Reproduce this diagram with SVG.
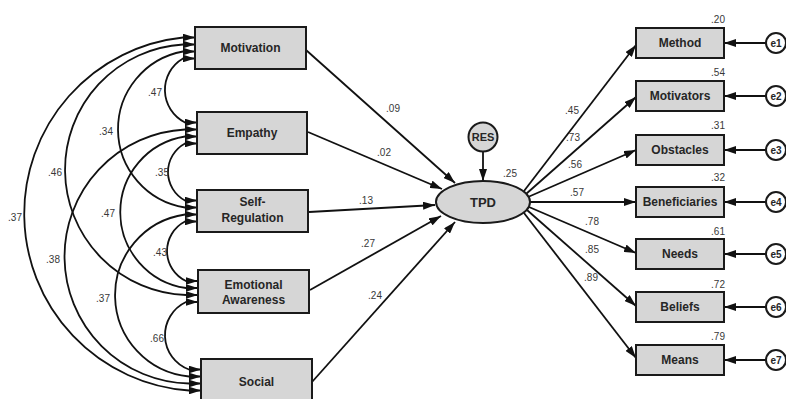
<svg xmlns="http://www.w3.org/2000/svg" width="786" height="399" viewBox="0 0 786 399">
<defs>
<marker id="ah" markerUnits="userSpaceOnUse" markerWidth="12" markerHeight="8" refX="12" refY="4" orient="auto-start-reverse" viewBox="0 0 12 8">
<path d="M0,0 L12,4 L0,8 z" fill="#111"/>
</marker>
<marker id="ch" markerUnits="userSpaceOnUse" markerWidth="12" markerHeight="7.6" refX="12" refY="3.8" orient="0" viewBox="0 0 12 7.6">
<path d="M0,0 L12,3.8 L0,7.6 z" fill="#111"/>
</marker>
<style>
.box{fill:#d6d6d6;stroke:#1a1a1a;stroke-width:2}
.lat{fill:#d6d6d6;stroke:#1a1a1a;stroke-width:2}
.lbl{font-family:"Liberation Sans",Arial,sans-serif;font-size:12px;font-weight:bold;fill:#262626;text-anchor:middle}
.num{font-family:"Liberation Sans",Arial,sans-serif;font-size:10px;fill:#383838;text-anchor:middle}
.conn{fill:none;stroke:#111;stroke-width:1.8}
.arr{marker-end:url(#ah)}
.cov{marker-start:url(#ch);marker-end:url(#ch)}
</style>
</defs>
<rect width="786" height="399" fill="#fff"/>
<g id="connectors">
<!-- covariances (circular arcs, horizontal arrowheads) -->
<path class="conn cov" d="M195,37.5 L183,37.5 A177.2,177.2 0 0 0 189,390.5 L201,390.5"/>
<path class="conn cov" d="M195,44.5 L183,44.5 A125.4,125.4 0 0 0 186,295 L198,295"/>
<path class="conn cov" d="M195,51.5 L183,51.5 A79.1,79.1 0 0 0 185,207.5 L197,207.5"/>
<path class="conn cov" d="M195,58.5 L183,58.5 A36.4,36.4 0 0 0 185,122.5 L197,122.5"/>
<path class="conn cov" d="M197,129.5 L185,129.5 A127.1,127.1 0 0 0 189,383.5 L201,383.5"/>
<path class="conn cov" d="M197,136.5 L185,136.5 A76.6,76.6 0 0 0 186,288 L198,288"/>
<path class="conn cov" d="M197,143.5 L185,143.5 A32.4,32.4 0 0 0 185,200.5 L197,200.5"/>
<path class="conn cov" d="M197,214.5 L185,214.5 A81.6,81.6 0 0 0 189,376.5 L201,376.5"/>
<path class="conn cov" d="M197,221.5 L185,221.5 A33.2,33.2 0 0 0 186,281 L198,281"/>
<path class="conn cov" d="M198,302 L186,302 A36.6,36.6 0 0 0 189,369.5 L201,369.5"/>
<!-- predictors to TPD -->
<path class="conn arr" d="M306,50 L455,183"/>
<path class="conn arr" d="M308,132 L442,189"/>
<path class="conn arr" d="M309,212 L435,205"/>
<path class="conn arr" d="M310,290 L441,216"/>
<path class="conn arr" d="M312,382 L455,222"/>
<path class="conn arr" d="M483,152 L483,181"/>
<!-- TPD to indicators -->
<path class="conn arr" d="M524,191 L636,45"/>
<path class="conn arr" d="M526,194 L636,97"/>
<path class="conn arr" d="M528,197 L636,150"/>
<path class="conn arr" d="M530,202 L636,202"/>
<path class="conn arr" d="M529,207 L636,253"/>
<path class="conn arr" d="M527,210 L636,306"/>
<path class="conn arr" d="M524,213 L636,358"/>
<!-- errors -->
<path class="conn arr" d="M766,43 L724,43"/>
<path class="conn arr" d="M766,96 L724,96"/>
<path class="conn arr" d="M766,150 L724,150"/>
<path class="conn arr" d="M766,202 L724,202"/>
<path class="conn arr" d="M766,254 L724,254"/>
<path class="conn arr" d="M766,307 L724,307"/>
<path class="conn arr" d="M766,360 L724,360"/>
</g>
<g id="labels">
<text class="num" x="155" y="95.5">.47</text>
<text class="num" x="106" y="134.5">.34</text>
<text class="num" x="55" y="175.5">.46</text>
<text class="num" x="162" y="175.5">.35</text>
<text class="num" x="15" y="220.5">.37</text>
<text class="num" x="108" y="216.5">.47</text>
<text class="num" x="160" y="255.5">.43</text>
<text class="num" x="53" y="262.5">.38</text>
<text class="num" x="103" y="301.5">.37</text>
<text class="num" x="157" y="341.5">.66</text>
<text class="num" x="393" y="111.5">.09</text>
<text class="num" x="384" y="155.5">.02</text>
<text class="num" x="366" y="203.5">.13</text>
<text class="num" x="368" y="246.5">.27</text>
<text class="num" x="375" y="298.5">.24</text>
<text class="num" x="510" y="176.5">.25</text>
<text class="num" x="572" y="113.5">.45</text>
<text class="num" x="573" y="140.5">.73</text>
<text class="num" x="575" y="167.5">.56</text>
<text class="num" x="577" y="195.5">.57</text>
<text class="num" x="592" y="224.5">.78</text>
<text class="num" x="592" y="252.5">.85</text>
<text class="num" x="591" y="280.5">.89</text>
<text class="num" x="718" y="22.5">.20</text>
<text class="num" x="718" y="75.5">.54</text>
<text class="num" x="718" y="128.5">.31</text>
<text class="num" x="718" y="180.5">.32</text>
<text class="num" x="718" y="234.5">.61</text>
<text class="num" x="718" y="287.5">.72</text>
<text class="num" x="718" y="339.5">.79</text>
</g>
<g id="Motivation"><rect class="box" x="195" y="27" width="111" height="42"/><text class="lbl" x="250.5" y="52">Motivation</text></g>
<g id="Empathy"><rect class="box" x="197" y="112" width="110" height="42"/><text class="lbl" x="252" y="137">Empathy</text></g>
<g id="SelfRegulation"><rect class="box" x="197" y="190" width="111" height="42"/><text class="lbl" x="252.5" y="206">Self-</text><text class="lbl" x="252.5" y="222">Regulation</text></g>
<g id="EmotionalAwareness"><rect class="box" x="198" y="270" width="111" height="43"/><text class="lbl" x="253.5" y="289">Emotional</text><text class="lbl" x="253.5" y="304">Awareness</text></g>
<g id="Social"><rect class="box" x="201" y="359" width="111" height="42"/><text class="lbl" x="256.5" y="386">Social</text></g>
<g id="RES"><circle class="lat" cx="483" cy="137" r="14.5"/><text class="lbl" x="483" y="141" style="font-size:11px">RES</text></g>
<g id="TPD"><ellipse class="lat" cx="483" cy="202" rx="47" ry="21"/><text class="lbl" x="483" y="206.5" style="font-size:13px">TPD</text></g>
<g id="Method"><rect class="box" x="636" y="28" width="88" height="30"/><text class="lbl" x="680" y="47">Method</text></g>
<g id="Motivators"><rect class="box" x="636" y="81" width="88" height="30"/><text class="lbl" x="680" y="100">Motivators</text></g>
<g id="Obstacles"><rect class="box" x="636" y="135" width="88" height="30"/><text class="lbl" x="680" y="154">Obstacles</text></g>
<g id="Beneficiaries"><rect class="box" x="636" y="187" width="88" height="30"/><text class="lbl" x="680" y="206">Beneficiaries</text></g>
<g id="Needs"><rect class="box" x="636" y="239" width="88" height="30"/><text class="lbl" x="680" y="258">Needs</text></g>
<g id="Beliefs"><rect class="box" x="636" y="292" width="88" height="30"/><text class="lbl" x="680" y="311">Beliefs</text></g>
<g id="Means"><rect class="box" x="636" y="345" width="88" height="30"/><text class="lbl" x="680" y="364">Means</text></g>
<g id="e1"><circle class="lat" cx="776" cy="43" r="10" style="fill:#fff"/><text class="lbl" x="776" y="46.5" style="font-size:10px">e1</text></g>
<g id="e2"><circle class="lat" cx="776" cy="96" r="10" style="fill:#fff"/><text class="lbl" x="776" y="99.5" style="font-size:10px">e2</text></g>
<g id="e3"><circle class="lat" cx="776" cy="150" r="10" style="fill:#fff"/><text class="lbl" x="776" y="153.5" style="font-size:10px">e3</text></g>
<g id="e4"><circle class="lat" cx="776" cy="202" r="10" style="fill:#fff"/><text class="lbl" x="776" y="205.5" style="font-size:10px">e4</text></g>
<g id="e5"><circle class="lat" cx="776" cy="254" r="10" style="fill:#fff"/><text class="lbl" x="776" y="257.5" style="font-size:10px">e5</text></g>
<g id="e6"><circle class="lat" cx="776" cy="307" r="10" style="fill:#fff"/><text class="lbl" x="776" y="310.5" style="font-size:10px">e6</text></g>
<g id="e7"><circle class="lat" cx="776" cy="360" r="10" style="fill:#fff"/><text class="lbl" x="776" y="363.5" style="font-size:10px">e7</text></g>
</svg>
